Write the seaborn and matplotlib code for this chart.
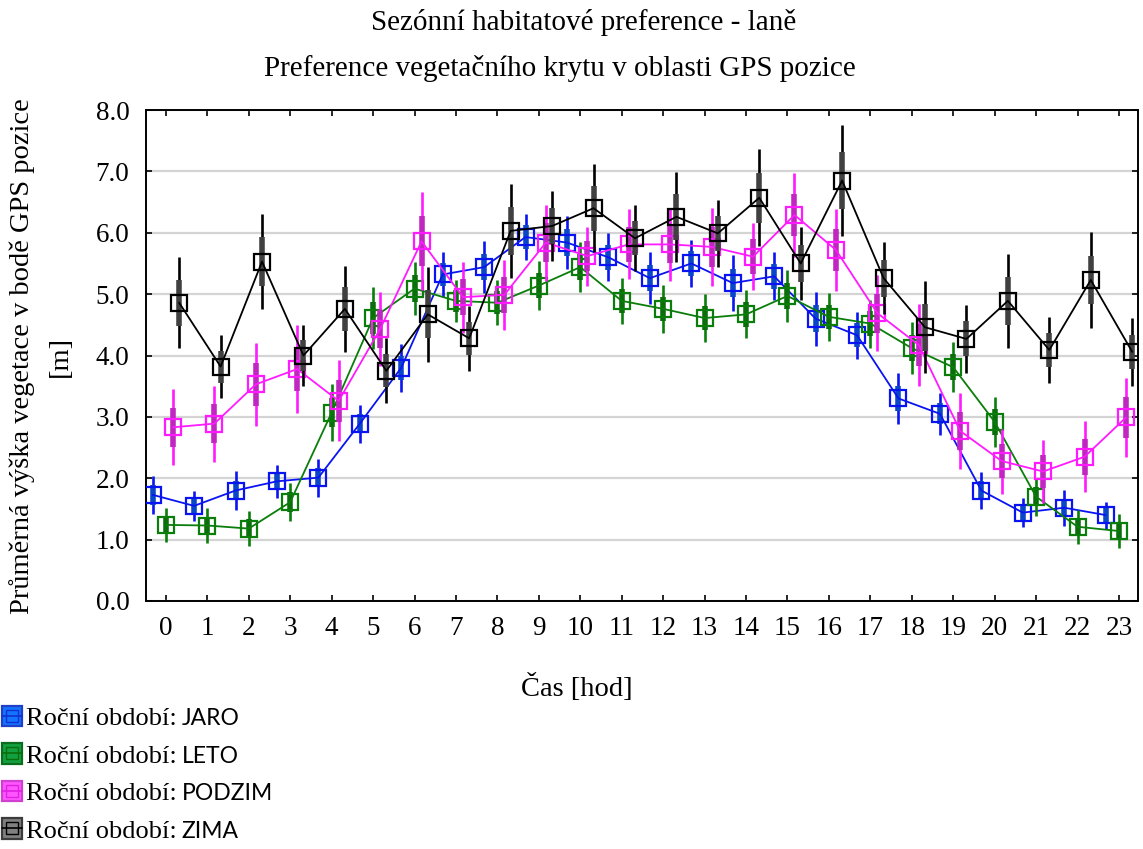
import numpy as np
import pandas as pd
import matplotlib
matplotlib.use("Agg")
import matplotlib.pyplot as plt
import seaborn as sns
from matplotlib.patches import Patch
from matplotlib.lines import Line2D
from matplotlib.legend_handler import HandlerTuple

# ---------------- data ----------------
hours = list(range(24))
seasons = ["JARO", "LETO", "PODZIM", "ZIMA"]

jaro = [1.73, 1.55, 1.80, 1.95, 2.01, 2.89, 3.80, 5.32, 5.44, 5.93, 5.84, 5.60,
        5.26, 5.50, 5.18, 5.29, 4.60, 4.33, 3.30, 3.05, 1.80, 1.44, 1.52, 1.40]
leto = [1.24, 1.23, 1.18, 1.61, 3.07, 4.61, 5.09, 4.89, 4.86, 5.14, 5.44, 4.89,
        4.76, 4.61, 4.67, 4.97, 4.63, 4.52, 4.12, 3.81, 2.92, 1.70, 1.21, 1.14]
podzim = [2.83, 2.89, 3.53, 3.78, 3.26, 4.43, 5.86, 4.95, 4.99, 5.84, 5.62, 5.81,
          5.81, 5.77, 5.61, 6.29, 5.72, 4.69, 4.17, 2.77, 2.28, 2.11, 2.35, 2.99]
zima = [4.86, 3.82, 5.53, 4.00, 4.76, 3.75, 4.67, 4.28, 6.03, 6.11, 6.40, 5.91,
        6.26, 5.99, 6.57, 5.50, 6.85, 5.26, 4.46, 4.27, 4.89, 4.09, 5.23, 4.06]

# 95% interval half-widths (thin whiskers); thick bars = +-1 SE
jaro_ci = [0.31, 0.24, 0.31, 0.27, 0.31, 0.31, 0.39, 0.37, 0.42, 0.38, 0.43, 0.39,
           0.42, 0.39, 0.45, 0.39, 0.44, 0.38, 0.41, 0.34, 0.30, 0.24, 0.29, 0.22]
leto_ci = [0.28, 0.28, 0.29, 0.31, 0.46, 0.50, 0.43, 0.34, 0.37, 0.40, 0.41, 0.38,
           0.39, 0.39, 0.39, 0.42, 0.39, 0.39, 0.42, 0.41, 0.41, 0.31, 0.28, 0.27]
podzim_ci = [0.62, 0.62, 0.68, 0.71, 0.66, 0.60, 0.80, 0.58, 0.57, 0.62, 0.48, 0.57,
             0.60, 0.63, 0.55, 0.68, 0.67, 0.62, 0.67, 0.62, 0.53, 0.52, 0.58, 0.64]
zima_ci = [0.74, 0.51, 0.78, 0.50, 0.70, 0.53, 0.77, 0.53, 0.77, 0.57, 0.72, 0.54,
           0.73, 0.55, 0.79, 0.60, 0.90, 0.59, 0.75, 0.56, 0.76, 0.54, 0.78, 0.55]

x_ticklabels = [str(h) for h in hours]
y_ticklabels = ["0.0", "1.0", "2.0", "3.0", "4.0", "5.0", "6.0", "7.0", "8.0"]

title1 = "Sezónní habitatové preference - laně"
title2 = "Preference vegetačního krytu v oblasti GPS pozice"
xlabel = "Čas [hod]"
ylabel1 = "Průměrná výška vegetace v bodě GPS pozice"
ylabel2 = "[m]"
legend_prefix = "Roční období:"

# ---------------- style ----------------
line_colors = {"JARO": "#0a14f0", "LETO": "#0a7d0a", "PODZIM": "#ff1aff", "ZIMA": "#000000"}
box_colors = {"JARO": "#0a46c8", "LETO": "#0a6e0a", "PODZIM": "#c026c0", "ZIMA": "#404040"}
leg_fill = {"JARO": "#1473ff", "LETO": "#13a040", "PODZIM": "#ff55ff", "ZIMA": "#808080"}
leg_edge = {"JARO": "#2040c8", "LETO": "#0a6e1e", "PODZIM": "#d040d0", "ZIMA": "#3c3c3c"}
leg_mark = {"JARO": "#1030d0", "LETO": "#0a6e0a", "PODZIM": "#e020e0", "ZIMA": "#000000"}
offsets = {"JARO": -0.32, "LETO": 0.0, "PODZIM": 0.17, "ZIMA": 0.32}

sns.set_theme(style="white")
plt.rcParams["font.family"] = ["Liberation Serif", "DejaVu Serif"]
plt.rcParams["text.color"] = "black"
plt.rcParams["axes.labelcolor"] = "black"
plt.rcParams["xtick.color"] = "black"
plt.rcParams["ytick.color"] = "black"

W, H = 1143, 849
fig = plt.figure(figsize=(W / 100, H / 100), dpi=100)
ax = fig.add_axes([146 / W, 1 - 601 / H, (1138 - 146) / W, (601 - 110) / H])

values = {"JARO": jaro, "LETO": leto, "PODZIM": podzim, "ZIMA": zima}
cis = {"JARO": jaro_ci, "LETO": leto_ci, "PODZIM": podzim_ci, "ZIMA": zima_ci}

rows = []
for s in seasons:
    for h, v, c in zip(hours, values[s], cis[s]):
        rows.append({"season": s, "hour": h, "x": h + offsets[s], "value": v, "ci": c})
df = pd.DataFrame(rows)

for i, s in enumerate(seasons):
    d = df[df.season == s]
    z = 3 + i
    ax.errorbar(d.x, d.value, yerr=d.ci, fmt="none", ecolor=line_colors[s],
                elinewidth=1.9, capsize=0, zorder=z)
    ax.errorbar(d.x, d.value, yerr=d.ci / 1.96, fmt="none", ecolor=box_colors[s],
                elinewidth=4.0, capsize=0, zorder=z + 0.1)
    sns.lineplot(data=d, x="x", y="value", color=line_colors[s], ax=ax,
                 marker="s", markersize=11.5, markerfacecolor="none",
                 markeredgecolor=line_colors[s], markeredgewidth=1.6,
                 linewidth=1.3, errorbar=None, sort=True, legend=False,
                 zorder=z + 0.2)

ax.set_xlim(-0.48, 23.46)
ax.set_ylim(0, 8)
ax.set_xticks(hours)
ax.set_xticklabels(x_ticklabels)
ax.set_yticks(np.arange(0, 9))
ax.set_yticklabels(y_ticklabels)
ax.set_xlabel("")
ax.set_ylabel("")
ax.yaxis.grid(True, color="#d4d4d4", linewidth=1.6)
ax.xaxis.grid(False)
ax.set_axisbelow(True)
for sp in ax.spines.values():
    sp.set_visible(True)
    sp.set_color("black")
    sp.set_linewidth(1.4)
ax.tick_params(axis="both", which="both", direction="in", length=4, width=1.2,
               colors="black", labelcolor="black", labelsize=19.5, top=True,
               right=True, bottom=True, left=True, labeltop=False, labelright=False)
ax.tick_params(axis="x", pad=11)
ax.tick_params(axis="y", pad=12)

# titles and labels
fig.text(584 / W, 1 - 22 / H, title1, ha="center", va="center", fontsize=21, color="black")
fig.text(560 / W, 1 - 68 / H, title2, ha="center", va="center", fontsize=21, color="black")
fig.text(577 / W, 1 - 688 / H, xlabel, ha="center", va="center", fontsize=20.5, color="black")
fig.text(22 / W, 1 - 356 / H, ylabel1, ha="center", va="center", rotation=90,
         fontsize=20.5, color="black")
fig.text(60 / W, 1 - 356 / H, ylabel2, ha="center", va="center", rotation=90,
         fontsize=20.5, color="black")

# legend
handles = []
for s in seasons:
    p = Patch(facecolor=leg_fill[s], edgecolor=leg_edge[s], linewidth=1.6)
    l = Line2D([], [], color=leg_mark[s], marker="s", markersize=8,
               markerfacecolor="none", linewidth=1.2, markeredgecolor=leg_mark[s])
    handles.append((p, l))
leg = fig.legend(handles, [legend_prefix] * 4, loc="upper left",
                 bbox_to_anchor=(2 / W, 1 - 706 / H), frameon=False, fontsize=19,
                 handlelength=0.76, handleheight=0.8, handletextpad=0.15,
                 labelspacing=0.50, borderpad=0.0, borderaxespad=0.0,
                 labelcolor="black",
                 handler_map={tuple: HandlerTuple(ndivide=1, pad=0)})

fig.canvas.draw()
inv = fig.transFigure.inverted()
for t, s in zip(leg.get_texts(), seasons):
    bb = t.get_window_extent()
    px, py = t.get_transform().transform(t.get_position())
    fx, fy = inv.transform((bb.x1 + 5, py))
    fig.text(fx, fy, s, ha="left", va="baseline", fontsize=16.5, color="black",
             family=["Lato", "DejaVu Sans"])

fig.savefig("out.png", dpi=100)
